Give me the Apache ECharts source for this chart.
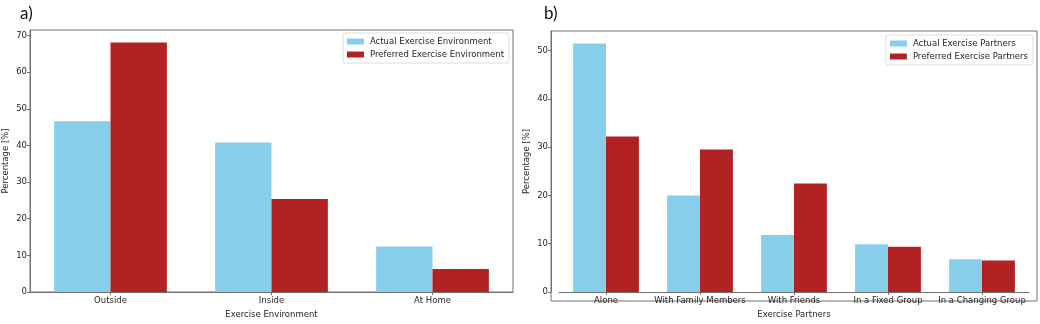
<!DOCTYPE html>
<html>
<head>
<meta charset="utf-8">
<script src="https://cdn.jsdelivr.net/npm/echarts@6/dist/echarts.min.js"></script>
<style>
  html, body { margin: 0; padding: 0; background: #fff; }
  #divChart { width: 1040px; height: 324px; }
</style>
</head>
<body>
<div id="divChart"></div>
<script>
// panel a) exercise environment
var envCategories = ['Outside', 'Inside', 'At Home'];
var envActual = [46.6, 40.8, 12.4];
var envPreferred = [68.1, 25.4, 6.3];
var envTicks = [0, 10, 20, 30, 40, 50, 60, 70];

// panel b) exercise partners
var partnerCategories = ['Alone', 'With Family Members', 'With Friends', 'In a Fixed Group', 'In a Changing Group'];
var partnerActual = [51.5, 20.0, 11.8, 9.9, 6.8];
var partnerPreferred = [32.2, 29.5, 22.5, 9.4, 6.5];
var partnerTicks = [0, 10, 20, 30, 40, 50];

var FONT = 'DejaVu Sans';
var FRAME = '#707070';
var TEXT = '#262626';

function yAxisOf(gridIndex, max, ticks, offset) {
    return {
        type: 'value',
        gridIndex: gridIndex,
        min: 0,
        max: max,
        offset: offset,
        name: 'Percentage [%]',
        nameLocation: 'middle',
        nameGap: 20,
        nameTextStyle: { fontFamily: FONT, fontSize: 8.5, color: TEXT },
        splitLine: { show: false },
        axisLine: { show: true, lineStyle: { color: FRAME, width: 1 } },
        axisTick: { show: true, inside: false, length: 3, customValues: ticks, lineStyle: { color: FRAME } },
        axisLabel: { customValues: ticks, margin: 3, fontFamily: FONT, fontSize: 8.5, color: TEXT }
    };
}

function xAxisOf(gridIndex, cats, title) {
    return {
        type: 'category',
        gridIndex: gridIndex,
        data: cats,
        name: title,
        nameLocation: 'middle',
        nameGap: 18,
        nameTextStyle: { fontFamily: FONT, fontSize: 8.5, color: TEXT },
        axisLine: { show: true, lineStyle: { color: FRAME, width: 1 } },
        axisTick: { show: true, alignWithLabel: true, length: 3, lineStyle: { color: FRAME } },
        axisLabel: { interval: 0, margin: 4, fontFamily: FONT, fontSize: 8.5, color: TEXT }
    };
}

function barSeries(name, data, color, xi, yi) {
    return {
        name: name,
        type: 'bar',
        xAxisIndex: xi,
        yAxisIndex: yi,
        data: data,
        barWidth: '35%',
        barGap: '0%',
        itemStyle: { color: color },
        emphasis: { disabled: true }
    };
}

function legendOf(names, right, top) {
    return {
        data: names,
        orient: 'vertical',
        right: right,
        top: top,
        itemWidth: 17,
        itemHeight: 6,
        itemGap: 4,
        icon: 'rect',
        padding: [4, 5, 4, 4],
        backgroundColor: '#fff',
        borderColor: '#dcdcdc',
        borderWidth: 1,
        borderRadius: 2,
        textStyle: { fontFamily: FONT, fontSize: 8.5, color: TEXT, padding: [0, 0, 0, 1] }
    };
}

var chart = echarts.init(document.getElementById('divChart'), null, { renderer: 'canvas' });
var option = {
    animation: false,
    backgroundColor: '#fff',
    title: [
        { text: 'a)', left: 15, top: 0, textStyle: { fontFamily: 'Lato', fontSize: 17, fontWeight: 'normal', color: '#111' } },
        { text: 'b)', left: 539, top: 0, textStyle: { fontFamily: 'Lato', fontSize: 17, fontWeight: 'normal', color: '#111' } }
    ],
    legend: [
        legendOf(['Actual Exercise Environment', 'Preferred Exercise Environment'], 1040 - 509, 33),
        legendOf(['Actual Exercise Partners', 'Preferred Exercise Partners'], 1040 - 1033, 35)
    ],
    grid: [
        // left panel
        { left: 27, top: 30, width: 486, height: 269, show: true, borderColor: FRAME, borderWidth: 1, backgroundColor: 'transparent' },
        // right panel frame
        { left: 551, top: 31, width: 486, height: 270, show: true, borderColor: FRAME, borderWidth: 1, backgroundColor: 'transparent' },
        // right panel bars (inset like matplotlib margins)
        { left: 559, top: 31, width: 470, height: 270 }
    ],
    xAxis: [
        xAxisOf(0, envCategories, 'Exercise Environment'),
        { type: 'value', gridIndex: 1, show: false },
        xAxisOf(2, partnerCategories, 'Exercise Partners')
    ],
    yAxis: [
        yAxisOf(0, 71.5, envTicks, 0),
        { type: 'value', gridIndex: 1, show: false },
        yAxisOf(2, 54.07, partnerTicks, 8)
    ],
    series: [
        barSeries('Actual Exercise Environment', envActual, '#87CEEB', 0, 0),
        barSeries('Preferred Exercise Environment', envPreferred, '#B22222', 0, 0),
        barSeries('Actual Exercise Partners', partnerActual, '#87CEEB', 2, 2),
        barSeries('Preferred Exercise Partners', partnerPreferred, '#B22222', 2, 2)
    ]
};
chart.setOption(option);
</script>
</body>
</html>
